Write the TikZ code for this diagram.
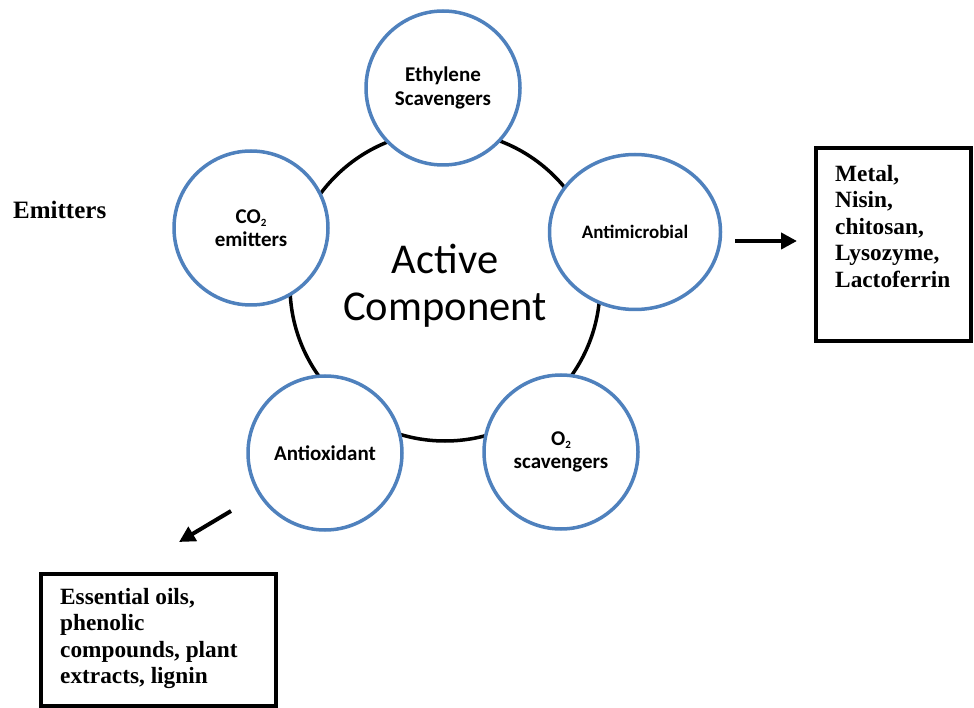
\documentclass[tikz,border=0pt]{standalone}
\usepackage{fontspec}
\setmainfont{Liberation Serif}
\newfontfamily\calib{Carlito}
\usetikzlibrary{shapes.geometric,arrows.meta}
\definecolor{cblue}{RGB}{79,129,189}
\newcommand{\tinysub}[1]{\raisebox{-0.35ex}{\fontsize{11}{11}\selectfont #1}}
\begin{document}
\begin{tikzpicture}[x=1pt,y=-1pt,
  ring/.style={circle,draw=cblue,line width=3.5pt,fill=white,minimum size=154pt,inner sep=0pt,align=center,
    font=\calib\bfseries\fontsize{21}{23.5}\selectfont},
  core/.style={circle,draw=black,line width=3.5pt,minimum size=310pt,inner sep=0pt,align=center,
    font=\calib\fontsize{42.5}{47}\selectfont},
  listbox/.style={rectangle,draw=black,line width=4pt,inner sep=0pt},
  listtext/.style={anchor=north west,inner sep=0pt,align=left,font=\bfseries\fontsize{23.3}{26.5}\selectfont},
  arr/.style={line width=4pt,-{Triangle[length=16pt,width=16pt]}}
]
\useasboundingbox (0,0) rectangle (974,708);
% central ring
\node[core] (core) at (445,286) {Active\\Component};
% satellites
\node[ring] (eth) at (443,88) {Ethylene\\Scavengers};
\node[ring] (co2) at (251,228) {CO\tinysub{2}\\emitters};
\node[ring,shape=ellipse,minimum width=171pt,minimum height=155pt,
  font=\calib\bfseries\fontsize{19}{22}\selectfont] (amb) at (635,232) {Antimicrobial};
\node[ring] (aox) at (325,453) {Antioxidant};
\node[ring] (o2) at (561,452) {O\tinysub{2}\\scavengers};
% left label
\node[anchor=base west,inner sep=0pt,font=\bfseries\fontsize{25}{28}\selectfont] (emit) at (13,219) {Emitters};
% right box
\node[listbox,minimum width=155pt,minimum height=193pt] (rbox) at (893.5,244.5) {};
\node[listtext] (rtext) at (835,165) {Metal,\\Nisin,\\chitosan,\\Lysozyme,\\Lactoferrin};
% bottom box
\node[listbox,minimum width=235pt,minimum height=132pt] (bbox) at (158.5,640) {};
\node[listtext] (btext) at (60,588) {Essential oils,\\phenolic\\compounds, plant\\extracts, lignin};
% arrows
\coordinate (a1s) at (735,241);
\coordinate (a1e) at (797,241);
\coordinate (a2s) at (231,511);
\coordinate (a2e) at (179,542);
\draw[arr] (a1s) -- (a1e);
\draw[arr] (a2s) -- (a2e);
\end{tikzpicture}
\end{document}
